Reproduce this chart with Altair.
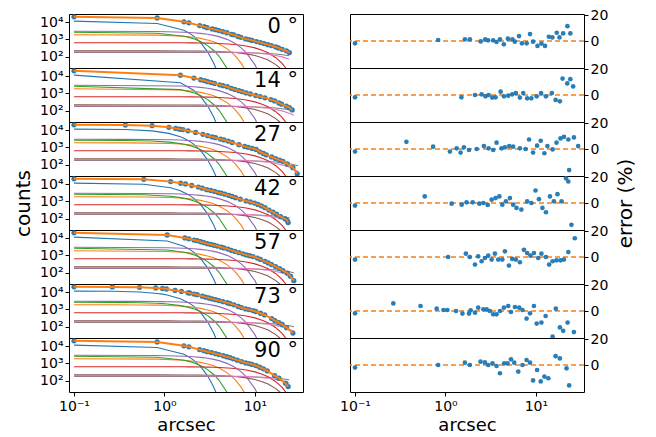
import altair as alt
import pandas as pd

angles = ["0", "14", "27", "42", "57", "73", "90"]

# radii (arcsec) of the measured points of each panel
radii = [
    [0.1, 0.83, 1.64, 1.86, 2.45, 2.75, 2.96, 3.37, 3.67, 4.0, 4.42, 4.9, 5.5, 5.84, 6.5, 7.0, 7.9, 8.6, 9.3, 10.4, 11.5, 12.6, 13.9, 15.2, 17.0, 18.2, 20.0, 22.3, 24.0],
    [0.1, 1.5, 2.12, 2.51, 2.77, 3.0, 3.29, 3.58, 4.07, 4.43, 4.94, 5.47, 6.0, 6.65, 7.24, 8.0, 8.9, 10.2, 11.4, 12.9, 15.0, 16.5, 18.4, 19.7, 22.2, 24.0, 25.8],
    [0.1, 0.37, 0.73, 1.12, 1.33, 1.47, 1.6, 1.82, 2.21, 2.66, 3.0, 3.37, 3.67, 4.17, 4.54, 5.07, 5.6, 6.65, 7.7, 8.4, 9.3, 10.3, 11.3, 12.4, 13.4, 15.3, 16.9, 18.7, 20.4, 22.8, 26.3, 29.3],
    [0.1, 0.59, 1.17, 1.51, 1.71, 2.0, 2.37, 2.62, 2.93, 3.24, 3.58, 3.94, 4.25, 4.66, 5.16, 5.6, 6.1, 6.9, 8.0, 8.9, 9.9, 10.8, 11.8, 12.9, 14.3, 15.8, 17.3, 19.2, 21.5, 22.8, 23.3],
    [0.1, 1.07, 1.68, 1.86, 2.12, 2.3, 2.51, 2.73, 2.97, 3.24, 3.52, 3.83, 4.25, 4.54, 5.03, 5.47, 6.0, 6.65, 7.36, 8.0, 8.7, 9.5, 10.6, 11.5, 12.9, 14.0, 15.3, 16.9, 18.7, 20.4, 22.8, 24.7, 26.9],
    [0.1, 0.265, 0.53, 0.8, 0.95, 1.05, 1.31, 1.54, 1.82, 1.9, 2.12, 2.3, 2.62, 2.85, 3.1, 3.37, 3.67, 4.0, 4.42, 4.94, 5.3, 5.86, 6.53, 7.1, 7.88, 8.6, 9.5, 10.2, 11.5, 12.8, 15.3, 16.6, 18.4, 20.0, 22.4, 26.3],
    [0.1, 0.83, 1.64, 1.86, 2.44, 2.73, 2.97, 3.31, 3.67, 4.0, 4.46, 4.86, 5.3, 5.76, 6.38, 7.1, 7.88, 8.6, 9.3, 10.3, 11.3, 12.4, 13.7, 16.5, 18.4, 21.8, 23.3],
]

counts = [
    [20400, 17380, 10470, 9120, 6310, 5430, 4790, 4070, 3670, 3240, 2820, 2430, 1970, 1840, 1480, 1320, 1070, 980, 880, 750, 660, 575, 500, 442, 367, 324, 269, 219, 174],
    [20400, 11220, 7760, 6170, 5430, 4790, 4220, 3800, 3160, 2820, 2430, 1970, 1700, 1445, 1260, 1070, 930, 760, 660, 556, 442, 370, 282, 240, 186, 151, 112],
    [20400, 19700, 18000, 14450, 12590, 11220, 10720, 9120, 7410, 5690, 4790, 4070, 3670, 3050, 2720, 2320, 1930, 1445, 1150, 1010, 880, 760, 562, 447, 372, 282, 229, 186, 158, 112, 68, 30],
    [20400, 18840, 13960, 11220, 10230, 8320, 6760, 5820, 4790, 4320, 3800, 3240, 2990, 2630, 2240, 1930, 1660, 1350, 1070, 930, 800, 676, 550, 437, 316, 240, 182, 132, 100, 79, 60],
    [20400, 15140, 10230, 9120, 7760, 7080, 6170, 5430, 4790, 4320, 3890, 3470, 2990, 2720, 2320, 1970, 1700, 1445, 1230, 1070, 970, 860, 708, 589, 457, 372, 295, 229, 174, 132, 95, 63, 35],
    [20400, 19950, 19050, 17380, 16220, 15140, 12590, 10960, 9120, 8910, 7760, 7080, 5820, 5130, 4570, 4070, 3670, 3240, 2820, 2430, 2160, 1840, 1480, 1290, 1070, 980, 860, 760, 603, 479, 295, 224, 170, 135, 89, 43],
    [20400, 17380, 10470, 9120, 6310, 5430, 4790, 4220, 3670, 3240, 2790, 2430, 2160, 1840, 1550, 1290, 1070, 980, 880, 741, 603, 490, 372, 200, 141, 72, 46],
]

errors = [
    [-1.8, 0.8, 1.3, 1.3, -0.3, 1.3, 0.5, 0.5, -0.8, 1.3, -2.6, 1.8, 1.3, -0.5, 3.8, -1.8, -1.8, 5.4, -0.5, -3.8, -2.0, -3.8, 3.3, 2.8, 6.4, 2.8, 5.9, 11.5, 5.9],
    [-1.8, -1.8, 0.0, 0.5, -1.0, 0.0, -2.0, -1.8, 2.6, -1.0, -0.5, 0.5, 1.5, -2.0, 1.5, -2.6, -2.6, -1.0, 1.5, -1.0, 1.5, -3.8, -4.9, 12.8, 9.0, 12.3, 6.7],
    [-2.0, 5.6, 1.8, -2.0, 0.5, -2.8, 1.3, -0.8, 0.0, 2.3, 0.5, -0.8, 4.9, 0.5, 1.3, 2.3, 1.8, 0.5, 0.0, 7.4, -2.8, 2.6, 6.4, -3.3, 2.3, -0.3, 4.9, 8.2, 9.5, 7.4, 9.0, 2.3],
    [-2.0, 5.1, -0.5, -1.3, 0.5, 0.5, -0.5, 0.0, -1.5, 2.6, 3.8, 5.1, -1.3, 1.3, 3.8, -1.3, -3.8, -5.1, 1.3, 0.0, 9.7, 3.0, -3.8, -7.2, 5.1, 1.3, 6.9, 1.3, 19.2, 16.7, 25.6],
    [-2.0, 0.0, 2.6, 0.0, -5.9, 0.5, -3.3, -0.8, 1.0, -2.0, 2.6, -2.0, -2.0, 4.4, -6.7, -1.5, -2.0, -4.1, 5.6, 3.1, 1.0, 3.1, -0.8, 2.6, 0.0, -5.9, -3.3, -2.6, -2.6, -2.0, 3.8, 25.0, 14.6],
    [-1.8, 5.9, 3.9, 1.8, 0.8, 0.8, 0.0, -2.0, -2.0, 0.5, -1.3, 2.6, 1.3, 1.3, 0.0, -2.6, -2.6, 0.0, 2.6, 3.9, -0.8, 3.1, 2.6, 0.8, -5.9, -1.8, 3.9, -9.8, -9.0, -3.9, -20.0, 1.8, -12.8, -15.4, -9.0, -16.4],
    [-2.0, 0.0, 1.8, 0.0, 2.6, 2.0, 0.0, 1.3, -0.8, -6.4, 1.3, 1.3, 4.4, 1.8, -5.1, 0.0, 3.9, 1.8, -12.0, -3.9, -12.8, -9.0, -10.3, 6.9, 5.1, -2.6, -15.9],
]

# model components, read on a common radius grid
grid_r = [0.1, 0.265, 0.37, 0.53, 0.59, 0.73, 0.83, 0.95, 1.07, 1.12, 1.17, 1.5, 1.64, 1.86,
          2.1, 2.5, 3.0, 3.5, 4.0, 5.0, 6.0, 7.0, 8.0, 10.0, 12.0, 14.0, 17.0, 20.0, 24.0, 27.0, 30.0]
comp_blue = [11450, 11140, 10810, 10120, 9820, 9030, 8410, 7630, 6830, 6500, 6170, 4130, 3380, 2390,
             1550, 672, 192, 44, 8, 0.13, None, None, None, None, None, None, None, None, None, None, None]
comp_orange = [1859, 1850, 1841, 1821, 1811, 1786, 1765, 1736, 1704, 1690, 1675, 1566, 1514, 1428,
               1328, 1154, 935, 730, 549, 276, 119, 44, 14, 0.9, 0.03, None, None, None, None, None, None]
comp_green = [2595, 2564, 2530, 2460, 2427, 2340, 2270, 2176, 2073, 2029, 1984, 1667, 1528, 1312,
              1088, 757, 439, 231, 110, 18.6, 2.1, 0.16, None, None, None, None, None, None, None, None, None]
comp_red = [650, 650, 649, 649, 648, 648, 647, 646, 645, 644, 644, 640, 638, 635,
            630, 622, 611, 597, 582, 547, 507, 463, 417, 325, 240, 168, 88, 41, 12, 4.2, 1.3]
comp_purple = [2950, 2941, 2932, 2914, 2905, 2881, 2861, 2835, 2804, 2791, 2777, 2670, 2619, 2531,
               2428, 2237, 1981, 1716, 1453, 976, 600, 337, 174, 35, 5, 0.5, None, None, None, None, None]
comp_brown = [220, 220, 220, 220, 220, 219, 219, 219, 218, 218, 218, 217, 216, 215,
              214, 211, 208, 204, 199, 188, 175, 161, 147, 117, 88, 64, 35, 17.5, 5.7, 2.2, 0.74]
comp_grey = [180, 180, 180, 180, 180, 180, 180, 180, 180, 180, 180, 180, 180, 180,
             180, 180, 179, 178, 178, 176, 175, 173, 171, 166, 160, 154, 143, 131, 114, 100, 88]
comp_pink = [195, 195, 195, 195, 195, 195, 195, 195, 195, 195, 195, 195, 195, 195,
             194, 193, 192, 191, 190, 187, 183, 179, 175, 164, 152, 139, 118, 98, 72, 55, 41]

comp_names = ["1blue", "2orange", "3green", "4red", "5purple", "6brown", "7grey", "8pink"]
comp_colors = ["#1f77b4", "#ff7f0e", "#2ca02c", "#d62728", "#9467bd", "#8c564b", "#7f7f7f", "#e377c2"]
comp_values = [comp_blue, comp_orange, comp_green, comp_red, comp_purple, comp_brown, comp_grey, comp_pink]

# grid radii used inside the core for each panel, and last radius of each panel
inner_radii = [
    [0.1, 0.83, 1.64, 1.86],
    [0.1, 1.5],
    [0.1, 0.37, 0.73, 1.12, 1.5, 1.64, 1.86],
    [0.1, 0.59, 1.17, 1.5, 1.86],
    [0.1, 1.07, 1.64, 1.86],
    [0.1, 0.265, 0.53, 0.83, 0.95, 1.07, 1.5, 1.86],
    [0.1, 0.83, 1.64, 1.86],
]
r_last = [24.0, 25.8, 29.3, 23.3, 26.9, 26.3, 23.3]

W, H = 234, 54
xscale = alt.Scale(type="log", domain=[0.088, 34], nice=False)
yscale_l = alt.Scale(type="log", domain=[22.4, 29500], nice=False)
yscale_r = alt.Scale(domain=[-21, 21], nice=False, zero=False)

x_label_expr = "datum.value < 0.5 ? '10⁻¹' : datum.value < 5 ? '10⁰' : '10¹'"
y_label_expr = "datum.value < 500 ? '10²' : datum.value < 5000 ? '10³' : '10⁴'"


def x_enc(k):
    if k == 6:
        return alt.X("r:Q", scale=xscale,
                     axis=alt.Axis(values=[0.1, 1, 10], labelExpr=x_label_expr, title="arcsec",
                                   titleFontSize=18, titlePadding=3, labelPadding=3, domain=False))
    return alt.X("r:Q", scale=xscale, axis=None)


def left_panel(k):
    rows = []
    for name, vals in zip(comp_names, comp_values):
        for r, v in zip(grid_r, vals):
            if v is None:
                continue
            if (r in inner_radii[k]) or (r >= 2.1 and r <= r_last[k] * 1.05):
                rows.append({"comp": name, "r": r, "v": v})
    dcomp = pd.DataFrame(rows)
    ddata = pd.DataFrame({"r": radii[k], "c": counts[k]})
    yaxis = alt.Axis(values=[100, 1000, 10000], labelExpr=y_label_expr,
                     title="counts" if k == 3 else None, titlePadding=6, domain=False)
    comps = alt.Chart(dcomp).mark_line(strokeWidth=1.1, clip=True).encode(
        x=x_enc(k),
        y=alt.Y("v:Q", scale=yscale_l, axis=yaxis),
        color=alt.Color("comp:N", scale=alt.Scale(domain=comp_names, range=comp_colors), legend=None),
        order="r:Q",
    )
    pts = alt.Chart(ddata).mark_circle(size=28, opacity=0.95, color="#1f77b4").encode(
        x=alt.X("r:Q", scale=xscale), y=alt.Y("c:Q", scale=yscale_l))
    total = alt.Chart(ddata).mark_line(color="#ff7f0e", strokeWidth=2).encode(
        x=alt.X("r:Q", scale=xscale), y=alt.Y("c:Q", scale=yscale_l), order="r:Q")
    label = alt.Chart(pd.DataFrame({"t": [angles[k] + " °"]})).mark_text(
        align="right", baseline="alphabetic", fontSize=21, font="DejaVu Sans", color="black"
    ).encode(x=alt.value(W - 5), y=alt.value(19), text="t:N")
    return alt.layer(comps, pts, total, label).properties(width=W, height=H)


def right_panel(k):
    d = pd.DataFrame({"r": radii[k], "e": errors[k]})
    if k == 3:
        yaxis = alt.Axis(orient="right", values=[0, 20], title="error (%)", titleAngle=270,
                         titleBaseline="top", titlePadding=8, domain=False)
    else:
        yaxis = alt.Axis(orient="right", values=[0, 20], title=None, domain=False)
    zero = alt.Chart(pd.DataFrame({"z": [0]})).mark_rule(
        color="#ff7f0e", strokeDash=[5, 3], strokeWidth=1.5).encode(
        y=alt.Y("z:Q", scale=yscale_r, axis=yaxis))
    pts = alt.Chart(d).mark_circle(size=22, opacity=0.95, color="#1f77b4").encode(
        x=x_enc(k), y=alt.Y("e:Q", scale=yscale_r))
    return alt.layer(zero, pts).properties(width=W, height=H)


left_col = alt.vconcat(*[left_panel(k) for k in range(7)], spacing=0, bounds="flush")
right_col = alt.vconcat(*[right_panel(k) for k in range(7)], spacing=0, bounds="flush")

chart = alt.hconcat(left_col, right_col, spacing=35).properties(
    padding={"left": 5, "top": -1, "right": 5, "bottom": 0}
).configure_view(stroke="black", strokeWidth=1).configure_axis(
    grid=False, labelFont="DejaVu Sans", labelFontSize=14, labelColor="black",
    tickColor="black", tickSize=4, labelPadding=2, titleFont="DejaVu Sans",
    titleFontSize=20, titleFontWeight="normal", titleColor="black",
)

chart.save("out.html", embed_options={"renderer": "svg", "actions": False})
